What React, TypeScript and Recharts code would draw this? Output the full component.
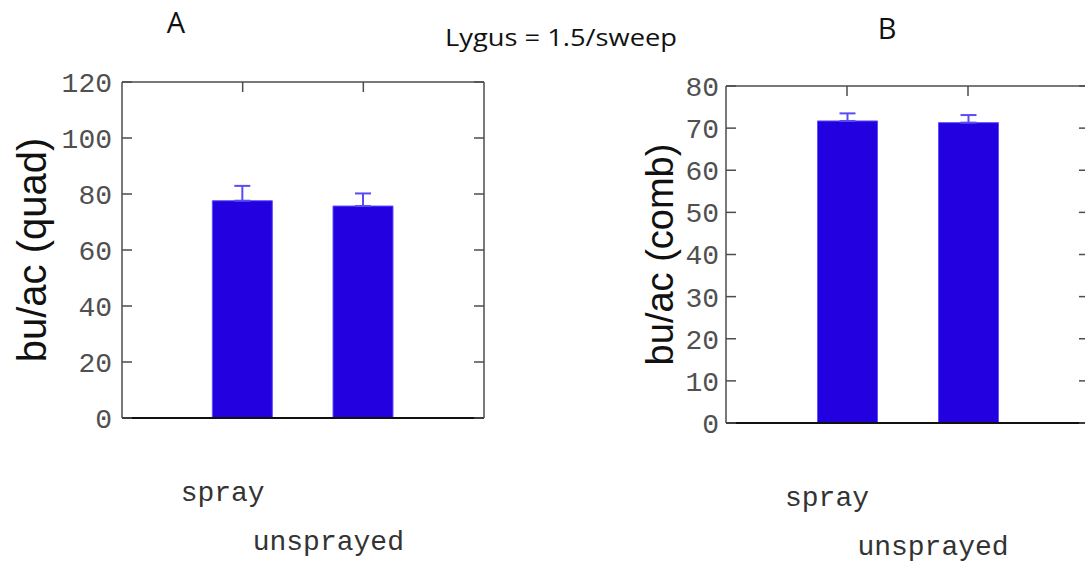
import React from 'react';
import { BarChart, Bar, XAxis, YAxis, ErrorBar, Label } from 'recharts';

const categories = ['spray', 'unsprayed'];
const quadYield = [77.6, 75.7];
const quadSE = [5.3, 4.5];
const combYield = [71.7, 71.3];
const combSE = [1.8, 1.8];
const quadTicks = [0, 20, 40, 60, 80, 100, 120];
const combTicks = [0, 10, 20, 30, 40, 50, 60, 70, 80];

const quadData = categories.map((c, i) => ({ name: c, value: quadYield[i], err: [0, quadSE[i]] }));
const combData = categories.map((c, i) => ({ name: c, value: combYield[i], err: [0, combSE[i]] }));

const MONO = '"Liberation Mono", "DejaVu Sans Mono", monospace';
const SANS = '"Liberation Sans", Arial, sans-serif';
const FRAME = '#4d4d4d';
const BAR = '#2200E0';
const ERR = '#5a4cf2';

const labelOffsets = [
  { dx: -20, dy: 83 },
  { dx: -35, dy: 132 },
];

const CatTick = (props: any) => {
  const { x, y, payload, index } = props;
  const o = labelOffsets[index] || { dx: 0, dy: 0 };
  return (
    <text x={x + o.dx} y={y + o.dy} textAnchor="middle" fontFamily={MONO} fontSize={28} fill="#333">
      {payload.value}
    </text>
  );
};

const NoTick = () => <g />;

type PanelProps = {
  data: any[];
  ticks: number[];
  yLabel: string;
  labelSize: number;
  labelX: number;
  left: number;
  width: number;
  height: number;
  margin: { top: number; right: number; bottom: number; left: number };
  yWidth: number;
  xHeight: number;
  tickGap: number;
};

const Panel = (p: PanelProps) => {
  const plotW = p.width - p.margin.left - p.margin.right - p.yWidth;
  const pad = plotW / 6;
  const max = p.ticks[p.ticks.length - 1];
  return (
    <div style={{ position: 'absolute', left: p.left, top: 0 }}>
      <BarChart width={p.width} height={p.height} data={p.data} margin={p.margin} barCategoryGap={0}>
        <XAxis
          xAxisId="bottom"
          dataKey="name"
          height={p.xHeight}
          padding={{ left: pad, right: pad }}
          tickLine={false}
          tickSize={0}
          tickMargin={0}
          interval={0}
          axisLine={{ stroke: '#111', strokeWidth: 2 }}
          tick={<CatTick />}
        />
        <XAxis
          xAxisId="top"
          dataKey="name"
          orientation="top"
          mirror
          padding={{ left: pad, right: pad }}
          tickSize={10}
          interval={0}
          tick={<NoTick />}
          tickLine={{ stroke: FRAME, strokeWidth: 1.5 }}
          axisLine={{ stroke: FRAME, strokeWidth: 1.5 }}
        />
        <YAxis
          yAxisId="left"
          width={p.yWidth}
          domain={[0, max]}
          ticks={p.ticks}
          interval={0}
          tickLine={false}
          tickSize={0}
          tickMargin={p.tickGap}
          axisLine={{ stroke: FRAME, strokeWidth: 1.5 }}
          tick={{ fontFamily: MONO, fontSize: 28, fill: '#505050' }}
        >
          <Label
            content={(lp: any) => {
              const vb = lp.viewBox || {};
              const cy = (vb.y ?? 0) + (vb.height ?? 0) / 2;
              return (
                <text
                  x={p.labelX}
                  y={cy}
                  transform={`rotate(-90 ${p.labelX} ${cy})`}
                  textAnchor="middle"
                  dominantBaseline="central"
                  fontFamily={SANS}
                  fontSize={p.labelSize}
                  fill="#111"
                >
                  {p.yLabel}
                </text>
              );
            }}
          />
        </YAxis>
        <YAxis
          yAxisId="leftIn"
          orientation="left"
          mirror
          type="number"
          allowDataOverflow
          domain={[0, max]}
          ticks={p.ticks}
          interval={0}
          tickSize={10}
          tick={<NoTick />}
          tickLine={{ stroke: FRAME, strokeWidth: 1.5 }}
          axisLine={false}
        />
        <YAxis
          yAxisId="right"
          orientation="right"
          mirror
          type="number"
          allowDataOverflow
          domain={[0, max]}
          ticks={p.ticks}
          interval={0}
          tickSize={10}
          tick={<NoTick />}
          tickLine={{ stroke: FRAME, strokeWidth: 1.5 }}
          axisLine={{ stroke: FRAME, strokeWidth: 1.5 }}
        />
        <Bar
          xAxisId="bottom"
          yAxisId="left"
          dataKey="value"
          barSize={60}
          fill={BAR}
          stroke="#5e50ff"
          strokeWidth={1}
          isAnimationActive={false}
        >
          <ErrorBar dataKey="err" direction="y" width={8} stroke={ERR} strokeWidth={2} isAnimationActive={false} />
        </Bar>
      </BarChart>
    </div>
  );
};

export default function App() {
  return (
    <div style={{ position: 'absolute', left: 0, top: 0, width: 1085, height: 564, overflow: 'hidden', background: '#fff' }}>
      <Panel
        data={quadData}
        ticks={quadTicks}
        yLabel="bu/ac (quad)"
        labelSize={40}
        labelX={32}
        left={0}
        width={520}
        height={564}
        margin={{ top: 82, right: 36, bottom: 0, left: 0 }}
        yWidth={122}
        xHeight={146}
        tickGap={10}
      />
      <Panel
        data={combData}
        ticks={combTicks}
        yLabel="bu/ac (comb)"
        labelSize={38}
        labelX={60}
        left={600}
        width={500}
        height={564}
        margin={{ top: 86, right: 11, bottom: 0, left: 0 }}
        yWidth={126}
        xHeight={141}
        tickGap={7}
      />
      <svg width={1085} height={564} style={{ position: 'absolute', left: 0, top: 0, pointerEvents: 'none' }}>
        <text x={176} y={33} textAnchor="middle" fontFamily='"Open Sans", sans-serif' fontSize={29} fill="#111">A</text>
        <text x={445} y={46} fontFamily='"Open Sans", sans-serif' fontSize={24} fill="#111" textLength={232} lengthAdjust="spacingAndGlyphs">Lygus = 1.5/sweep</text>
        <text x={887} y={39} textAnchor="middle" fontFamily='"Open Sans", sans-serif' fontSize={29} fill="#111">B</text>
      </svg>
    </div>
  );
}
